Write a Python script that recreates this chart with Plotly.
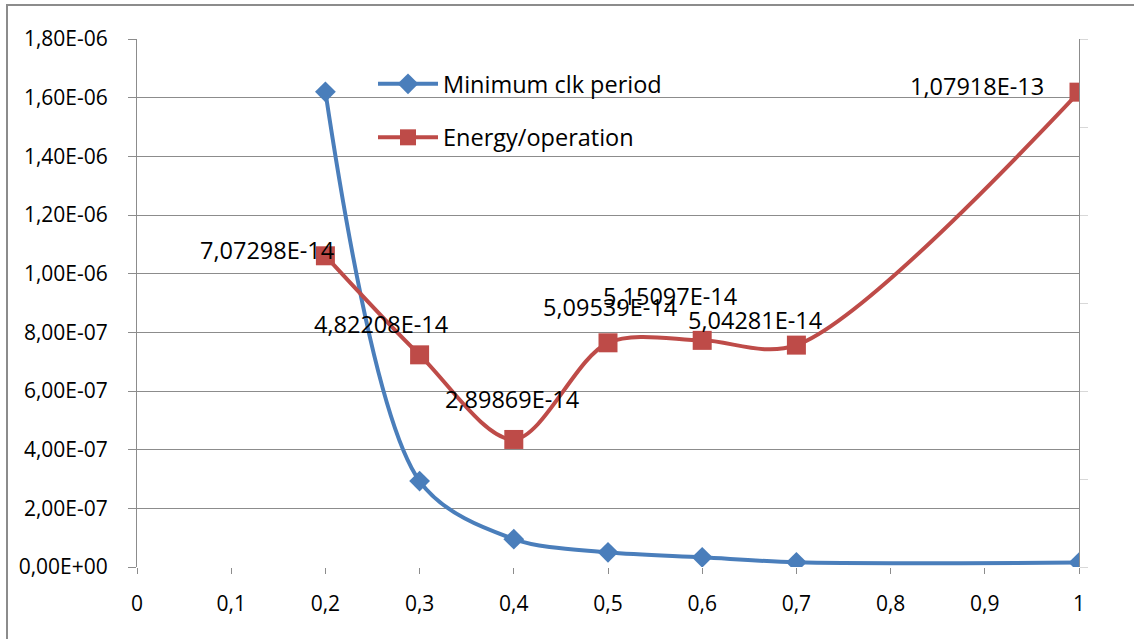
import plotly.graph_objects as go

# ---- data ----
x_vals = [0.2, 0.3, 0.4, 0.5, 0.6, 0.7, 1.0]
min_clk_period = [1.62e-06, 2.93e-07, 9.5e-08, 5.0e-08, 3.3e-08, 1.6e-08, 1.5e-08]
energy_per_op = [7.07298e-14, 4.82208e-14, 2.89869e-14, 5.09539e-14, 5.15097e-14, 5.04281e-14, 1.07918e-13]
y_ticks = [0, 2e-07, 4e-07, 6e-07, 8e-07, 1e-06, 1.2e-06, 1.4e-06, 1.6e-06, 1.8e-06]
y2_ticks = [0, 2e-14, 4e-14, 6e-14, 8e-14, 1e-13, 1.2e-13]
series_names = ["Minimum clk period", "Energy/operation"]

# label offsets (pixels) for the energy data labels
label_shift = [(-58, 6), (-39, 31), (-2, 40), (2, 36), (-32, 44), (-41, 25), (-102, 6)]


def excel_sci(v, digits):
    return f"{v:.{digits}E}".replace(".", ",")


BLUE = "#4A7EBB"
RED = "#BE4B48"
GRID = "#8C8C8C"
FONT = "Open Sans"

fig = go.Figure()
fig.add_trace(go.Scatter(
    x=x_vals, y=min_clk_period, name=series_names[0], mode="lines+markers",
    line=dict(color=BLUE, width=4, shape="spline", smoothing=0.9),
    marker=dict(symbol="diamond", size=16, color=BLUE),
    legendgroup="a",
))
fig.add_trace(go.Scatter(
    x=x_vals, y=energy_per_op, name=series_names[1], mode="lines+markers",
    line=dict(color=RED, width=4, shape="spline", smoothing=0.9),
    marker=dict(symbol="square", size=19, color=RED),
    yaxis="y2", legendgroup="b",
))

for xv, ev, (dx, dy) in zip(x_vals, energy_per_op, label_shift):
    fig.add_annotation(
        x=xv, y=ev, xref="x", yref="y2", text=excel_sci(ev, 5),
        showarrow=False, xshift=dx, yshift=dy,
        font=dict(family=FONT, size=23.5, color="#000000"),
    )

# outer chart border (partly cut off by the window)
fig.add_shape(type="rect", xref="paper", yref="paper",
              x0=(7 - 137) / 942, x1=(1140 - 137) / 942,
              y0=(567 - 645) / 528, y1=(567 - 5) / 528,
              line=dict(color=GRID, width=2), layer="below")

fig.update_layout(
    width=1134, height=639,
    margin=dict(l=137, r=55, t=39, b=72),
    paper_bgcolor="white", plot_bgcolor="white",
    separators=", ",
    font=dict(family=FONT, size=21, color="#000000"),
    showlegend=True,
    legend=dict(x=(373 - 137) / 942, y=(567 - 62) / 528, xanchor="left", yanchor="top",
                bgcolor="rgba(0,0,0,0)", font=dict(family=FONT, size=23.5),
                tracegroupgap=20, itemwidth=60),
    xaxis=dict(range=[0, 1], dtick=0.1, tick0=0, showgrid=False, zeroline=False,
               showline=False, ticks="outside", ticklen=6, tickcolor=GRID, tickwidth=1,
               tickfont=dict(family=FONT, size=21), ticklabelstandoff=12),
    yaxis=dict(range=[0, 1.8e-06], tickvals=y_ticks,
               ticktext=[excel_sci(v, 2) for v in y_ticks],
               showgrid=True, gridcolor=GRID, gridwidth=1, zeroline=False,
               showline=True, linecolor=GRID, linewidth=1,
               ticks="outside", ticklen=8, tickcolor=GRID,
               tickfont=dict(family=FONT, size=21), ticklabelstandoff=16),
    yaxis2=dict(range=[0, 1.2e-13], tickvals=y2_ticks, overlaying="y", side="right",
                showgrid=False, zeroline=False, showticklabels=False,
                showline=True, linecolor=GRID, linewidth=1,
                ticks="outside", ticklen=8, tickcolor="#D8D8D8"),
)

fig.write_html("out.html")
